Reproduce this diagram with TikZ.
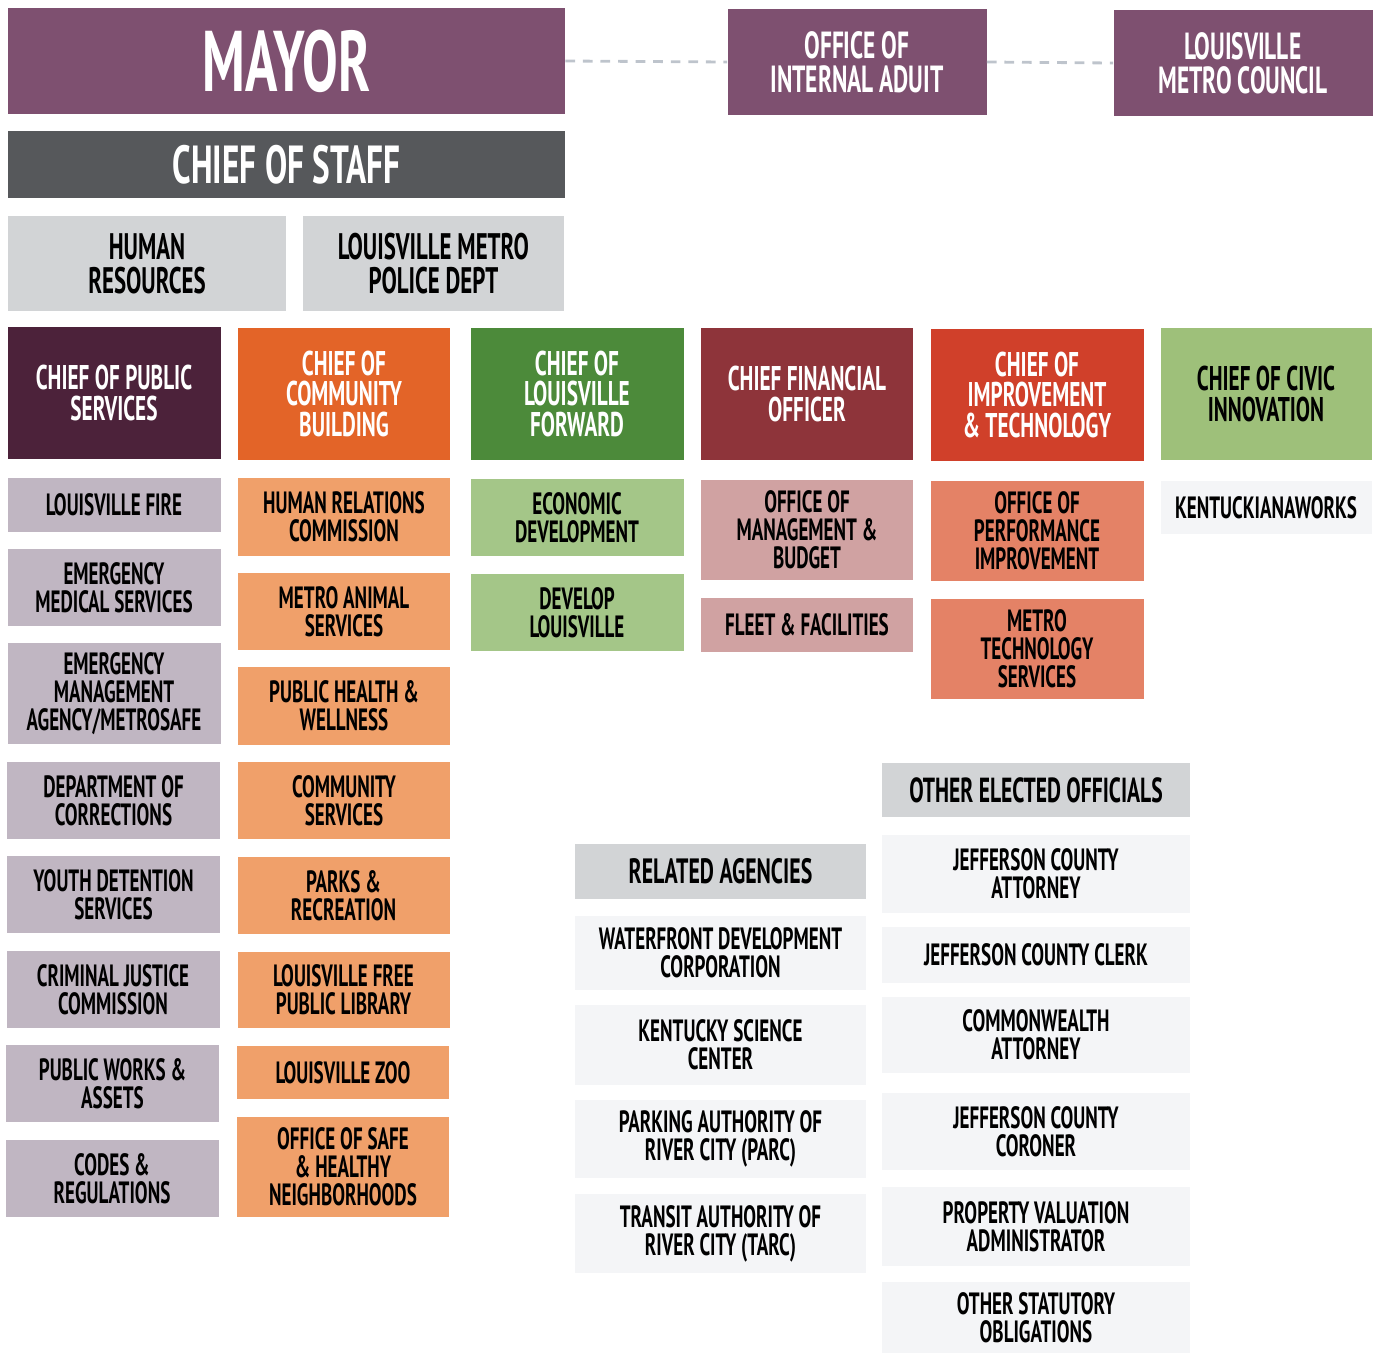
\documentclass[tikz,border=0pt]{standalone}
\usepackage{fontspec}
\setmainfont[FakeStretch=0.62]{PT Sans}
\usepackage{tikz}
\definecolor{mayorpurple}{RGB}{126,80,112}
\definecolor{staffgrey}{RGB}{86,88,91}
\definecolor{headgrey}{RGB}{210,212,214}
\definecolor{publicplum}{RGB}{76,34,58}
\definecolor{commorange}{RGB}{227,100,40}
\definecolor{fwdgreen}{RGB}{76,138,58}
\definecolor{cfored}{RGB}{142,52,58}
\definecolor{imprred}{RGB}{208,64,42}
\definecolor{civicgreen}{RGB}{158,192,122}
\definecolor{lilac}{RGB}{192,182,194}
\definecolor{lightorange}{RGB}{240,160,106}
\definecolor{lightgreen}{RGB}{164,198,136}
\definecolor{dustypink}{RGB}{208,162,162}
\definecolor{salmon}{RGB}{228,130,102}
\definecolor{paleface}{RGB}{244,245,247}
\definecolor{dashgrey}{RGB}{190,196,204}

\begin{document}
\begin{tikzpicture}[x=0.02cm,y=-0.02cm,
    size/.style 2 args={minimum width=#1*0.02cm,minimum height=#2*0.02cm},
    box/.style={rectangle,inner sep=0pt,align=center,text=black,
      font=\bfseries\fontsize{17.5}{16}\selectfont},
    chief/.style={box,text=white,font=\bfseries\fontsize{19.5}{17.6}\selectfont},
    top/.style={box,text=white,fill=mayorpurple,size={259}{106},
      font=\bfseries\fontsize{21.5}{19.5}\selectfont},
    head/.style={box,fill=headgrey,font=\bfseries\fontsize{21}{19.5}\selectfont},
    link/.style={dashgrey,line width=1.6pt,dash pattern=on 5.5pt off 4.5pt}]
  \useasboundingbox (0,0) rectangle (1380,1353);

  % Mayor and the offices beside
  \node[box,text=white,fill=mayorpurple,size={557}{106},
    font=\bfseries\fontsize{49}{49}\selectfont] (mayor) at (286.5,61) {MAYOR};
  \node[top] (audit) at (857,62) {OFFICE OF\\INTERNAL ADUIT};
  \node[top] (council) at (1243,63) {LOUISVILLE\\METRO COUNCIL};
  \draw[link] (mayor.east) -- (audit.west);
  \draw[link] (audit.east) -- (council.west);

  % Chief of staff
  \node[box,text=white,fill=staffgrey,size={557}{67},
    font=\bfseries\fontsize{30.5}{30}\selectfont] (staff) at (286.5,164.5) {CHIEF OF STAFF};
  \node[head,size={278}{95}] (hr) at (147,263.5) {HUMAN\\RESOURCES};
  \node[head,size={261}{95}] (police) at (433.5,263.5) {LOUISVILLE METRO\\POLICE DEPT};

  % Chiefs
  \node[chief,fill=publicplum,size={213}{132}] (public) at (114,393) {CHIEF OF PUBLIC\\SERVICES};
  \node[chief,fill=commorange,size={212}{132}] (community) at (344,394) {CHIEF OF\\COMMUNITY\\BUILDING};
  \node[chief,fill=fwdgreen,size={213}{132}] (forward) at (577,394) {CHIEF OF\\LOUISVILLE\\FORWARD};
  \node[chief,fill=cfored,size={212}{132}] (cfo) at (807,394) {CHIEF FINANCIAL\\OFFICER};
  \node[chief,fill=imprred,size={213}{132}] (improve) at (1037,395) {CHIEF OF\\IMPROVEMENT\\\& TECHNOLOGY};
  \node[box,fill=civicgreen,size={211}{132},
    font=\bfseries\fontsize{19.5}{17.6}\selectfont] (civic) at (1266,394) {CHIEF OF CIVIC\\INNOVATION};

  % Public services
  \node[box,fill=lilac,size={213}{54}] (fire) at (114,505) {LOUISVILLE FIRE};
  \node[box,fill=lilac,size={213}{77}] (ems) at (114,587.5) {EMERGENCY\\MEDICAL SERVICES};
  \node[box,fill=lilac,size={213}{101}] (ema) at (114,693.5) {EMERGENCY\\MANAGEMENT\\AGENCY/METROSAFE};
  \node[box,fill=lilac,size={213}{77}] (corrections) at (113.5,800.5) {DEPARTMENT OF\\CORRECTIONS};
  \node[box,fill=lilac,size={213}{77}] (youth) at (113.5,894.5) {YOUTH DETENTION\\SERVICES};
  \node[box,fill=lilac,size={213}{77}] (justice) at (113,989.5) {CRIMINAL JUSTICE\\COMMISSION};
  \node[box,fill=lilac,size={213}{77}] (works) at (112.5,1083.5) {PUBLIC WORKS \&\\ASSETS};
  \node[box,fill=lilac,size={213}{77}] (codes) at (112,1178.5) {CODES \&\\REGULATIONS};

  % Community building
  \node[box,fill=lightorange,size={212}{78}] (relations) at (344,517) {HUMAN RELATIONS\\COMMISSION};
  \node[box,fill=lightorange,size={212}{77}] (animal) at (344,611.5) {METRO ANIMAL\\SERVICES};
  \node[box,fill=lightorange,size={212}{78}] (health) at (344,706) {PUBLIC HEALTH \&\\WELLNESS};
  \node[box,fill=lightorange,size={212}{77}] (commserv) at (344,800.5) {COMMUNITY\\SERVICES};
  \node[box,fill=lightorange,size={212}{77}] (parks) at (343.5,895.5) {PARKS \&\\RECREATION};
  \node[box,fill=lightorange,size={212}{76}] (library) at (343.5,990) {LOUISVILLE FREE\\PUBLIC LIBRARY};
  \node[box,fill=lightorange,size={212}{53}] (zoo) at (343,1072.5) {LOUISVILLE ZOO};
  \node[box,fill=lightorange,size={212}{100}] (safe) at (343,1167) {OFFICE OF SAFE\\\& HEALTHY\\NEIGHBORHOODS};

  % Louisville forward
  \node[box,fill=lightgreen,size={213}{77}] (econ) at (577,517.5) {ECONOMIC\\DEVELOPMENT};
  \node[box,fill=lightgreen,size={213}{77}] (develop) at (577,612.5) {DEVELOP\\LOUISVILLE};

  % Finance
  \node[box,fill=dustypink,size={212}{100}] (omb) at (807,530) {OFFICE OF\\MANAGEMENT \&\\BUDGET};
  \node[box,fill=dustypink,size={212}{54}] (fleet) at (807,625) {FLEET \& FACILITIES};

  % Improvement and technology
  \node[box,fill=salmon,size={213}{100}] (opi) at (1037,531) {OFFICE OF\\PERFORMANCE\\IMPROVEMENT};
  \node[box,fill=salmon,size={213}{100}] (mts) at (1037,649) {METRO\\TECHNOLOGY\\SERVICES};

  % Civic innovation
  \node[box,fill=paleface,size={211}{53}] (kworks) at (1266,507.5) {KENTUCKIANAWORKS};

  % Other elected officials
  \node[head,size={308}{54},font=\bfseries\fontsize{19.8}{19.5}\selectfont] (elected) at (1036,790) {OTHER ELECTED OFFICIALS};
  \node[box,fill=paleface,size={308}{78}] (attorney) at (1036,874) {JEFFERSON COUNTY\\ATTORNEY};
  \node[box,fill=paleface,size={308}{56}] (clerk) at (1036,955) {JEFFERSON COUNTY CLERK};
  \node[box,fill=paleface,size={308}{76}] (commonwealth) at (1036,1035) {COMMONWEALTH\\ATTORNEY};
  \node[box,fill=paleface,size={308}{77}] (coroner) at (1036,1131.5) {JEFFERSON COUNTY\\CORONER};
  \node[box,fill=paleface,size={308}{79}] (pva) at (1036,1226.5) {PROPERTY VALUATION\\ADMINISTRATOR};
  \node[box,fill=paleface,size={308}{71}] (statutory) at (1036,1317.5) {OTHER STATUTORY\\OBLIGATIONS};

  % Related agencies
  \node[head,size={291}{55},font=\bfseries\fontsize{20}{19.5}\selectfont] (related) at (720.5,871.5) {RELATED AGENCIES};
  \node[box,fill=paleface,size={291}{74}] (waterfront) at (720.5,953) {WATERFRONT DEVELOPMENT\\CORPORATION};
  \node[box,fill=paleface,size={291}{80}] (science) at (720.5,1045) {KENTUCKY SCIENCE\\CENTER};
  \node[box,fill=paleface,size={291}{78}] (parc) at (720.5,1139) {PARKING AUTHORITY OF\\RIVER CITY (PARC)};
  \node[box,fill=paleface,size={291}{79}] (tarc) at (720.5,1233.5) {TRANSIT AUTHORITY OF\\RIVER CITY (TARC)};
\end{tikzpicture}
\end{document}
